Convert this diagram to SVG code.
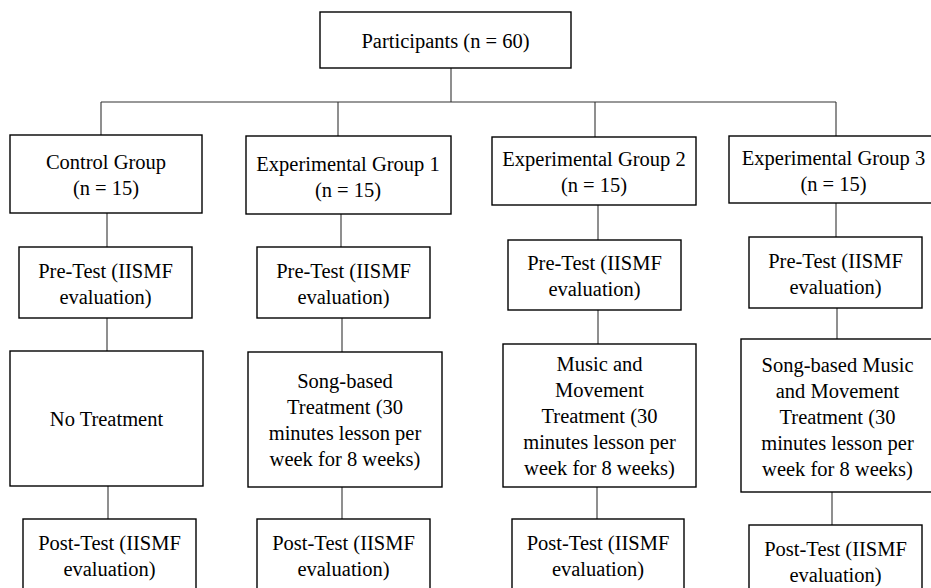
<svg xmlns="http://www.w3.org/2000/svg" width="931" height="588" viewBox="0 0 931 588">
<style>
rect{fill:#fff;stroke:#000;stroke-width:1.4}
text{font-family:"Liberation Serif","Times New Roman",serif;font-size:20.5px;fill:#000;text-anchor:middle}
#connectors line{stroke:#333;stroke-width:1.1}
</style>
<rect x="0" y="0" width="931" height="588" style="stroke:none"/>
<g id="connectors">
<line x1="451" y1="68" x2="451" y2="102"/>
<line x1="101" y1="102" x2="836" y2="102"/>
<line x1="101" y1="102" x2="101" y2="135"/>
<line x1="338" y1="102" x2="338" y2="136"/>
<line x1="595" y1="102" x2="595" y2="137"/>
<line x1="836" y1="102" x2="836" y2="136"/>
<line x1="107" y1="213" x2="107" y2="247"/>
<line x1="341" y1="214" x2="341" y2="247"/>
<line x1="598" y1="205" x2="598" y2="240"/>
<line x1="836" y1="203" x2="836" y2="237"/>
<line x1="107" y1="318" x2="107" y2="351"/>
<line x1="342" y1="318" x2="342" y2="352"/>
<line x1="598" y1="310" x2="598" y2="344"/>
<line x1="837" y1="308" x2="837" y2="339"/>
<line x1="108" y1="486" x2="108" y2="519"/>
<line x1="342" y1="487" x2="342" y2="519"/>
<line x1="597" y1="487" x2="597" y2="519"/>
<line x1="832" y1="492" x2="832" y2="525"/>
</g>
<g id="participants"><rect x="320" y="12" width="251" height="56"/><text x="445.5" y="48">Participants (n = 60)</text></g>
<g id="control"><rect x="10" y="135" width="192" height="78"/><text x="106" y="169">Control Group</text><text x="106" y="195">(n = 15)</text></g>
<g id="eg1"><rect x="246" y="136" width="205" height="78"/><text x="348" y="170.5">Experimental Group 1</text><text x="348" y="196.5">(n = 15)</text></g>
<g id="eg2"><rect x="492" y="137" width="204" height="68"/><text x="594" y="166">Experimental Group 2</text><text x="594" y="192">(n = 15)</text></g>
<g id="eg3"><rect x="729" y="136" width="209" height="67"/><text x="833.5" y="164.5">Experimental Group 3</text><text x="833.5" y="190.5">(n = 15)</text></g>
<g id="control-pre"><rect x="19" y="247" width="173" height="71"/><text x="105.5" y="277.5">Pre-Test (IISMF</text><text x="105.5" y="303.5">evaluation)</text></g>
<g id="eg1-pre"><rect x="257" y="247" width="173" height="71"/><text x="343.5" y="277.5">Pre-Test (IISMF</text><text x="343.5" y="303.5">evaluation)</text></g>
<g id="eg2-pre"><rect x="508" y="240" width="173" height="70"/><text x="594.5" y="270">Pre-Test (IISMF</text><text x="594.5" y="296">evaluation)</text></g>
<g id="eg3-pre"><rect x="749" y="237" width="173" height="71"/><text x="835.5" y="267.5">Pre-Test (IISMF</text><text x="835.5" y="293.5">evaluation)</text></g>
<g id="control-treat"><rect x="10" y="351" width="193" height="135"/><text x="106.5" y="426">No Treatment</text></g>
<g id="eg1-treat"><rect x="248" y="352" width="194" height="135"/><text x="345" y="388">Song-based</text><text x="345" y="414">Treatment (30</text><text x="345" y="440">minutes lesson per</text><text x="345" y="466">week for 8 weeks)</text></g>
<g id="eg2-treat"><rect x="503" y="344" width="193" height="143"/><text x="599.5" y="371">Music and</text><text x="599.5" y="397">Movement</text><text x="599.5" y="423">Treatment (30</text><text x="599.5" y="449">minutes lesson per</text><text x="599.5" y="475">week for 8 weeks)</text></g>
<g id="eg3-treat"><rect x="741" y="339" width="193" height="153"/><text x="837.5" y="371.5">Song-based Music</text><text x="837.5" y="397.5">and Movement</text><text x="837.5" y="423.5">Treatment (30</text><text x="837.5" y="449.5">minutes lesson per</text><text x="837.5" y="475.5">week for 8 weeks)</text></g>
<g id="control-post"><rect x="23" y="519" width="173" height="71"/><text x="109.5" y="549.5">Post-Test (IISMF</text><text x="109.5" y="575.5">evaluation)</text></g>
<g id="eg1-post"><rect x="257" y="519" width="173" height="71"/><text x="343.5" y="549.5">Post-Test (IISMF</text><text x="343.5" y="575.5">evaluation)</text></g>
<g id="eg2-post"><rect x="512" y="519" width="172" height="71"/><text x="598" y="549.5">Post-Test (IISMF</text><text x="598" y="575.5">evaluation)</text></g>
<g id="eg3-post"><rect x="749" y="525" width="173" height="71"/><text x="835.5" y="555.5">Post-Test (IISMF</text><text x="835.5" y="581.5">evaluation)</text></g>
</svg>
